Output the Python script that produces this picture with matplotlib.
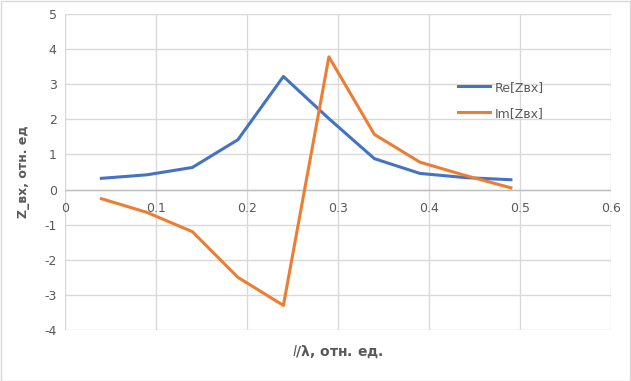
import numpy as np
import matplotlib.pyplot as plt
from matplotlib.patches import Rectangle

# l/lambda, rel. units
x = [0.04, 0.09, 0.14, 0.19, 0.24, 0.29, 0.34, 0.39, 0.44, 0.49]
re_z = [0.32, 0.42, 0.63, 1.42, 3.22, 2.02, 0.88, 0.46, 0.34, 0.28]
im_z = [-0.26, -0.65, -1.2, -2.5, -3.3, 3.78, 1.57, 0.78, 0.40, 0.05]

xticks = [0, 0.1, 0.2, 0.3, 0.4, 0.5, 0.6]
yticks = [-4, -3, -2, -1, 0, 1, 2, 3, 4, 5]

gray = '#595959'
grid = '#d9d9d9'

fig = plt.figure(figsize=(6.31, 3.81), dpi=100)
fig.patches.append(Rectangle((0.001, 0.001), 0.997, 0.996, transform=fig.transFigure,
                             fill=False, edgecolor=grid, lw=1))
ax = fig.add_axes([65/631, 1-330/381, (611-65)/631, (330-14)/381])

ax.plot(x, re_z, color='#4472C4', lw=2.2, label='Re[Zвх]')
ax.plot(x, im_z, color='#ED7D31', lw=2.2, label='Im[Zвх]')

ax.set_xlim(0, 0.6)
ax.set_ylim(-4, 5)
ax.set_xticks(xticks)
ax.set_yticks(yticks)
ax.set_xticklabels([f'{t:g}' for t in xticks])
ax.set_yticklabels([f'{t:g}' for t in yticks])
ax.grid(True, color=grid, lw=1)
ax.set_axisbelow(True)
for s in ax.spines.values():
    s.set_visible(False)
ax.axhline(0, color='#bfbfbf', lw=1, zorder=1)
ax.tick_params(length=0, labelsize=9, colors=gray)
ax.tick_params(axis='y', pad=6)
# x tick labels sit right under the zero line
for lab in ax.get_xticklabels():
    lab.set_transform(lab.get_transform() + plt.matplotlib.transforms.ScaledTranslation(0, 1.33, fig.dpi_scale_trans))

ax.set_ylabel('Z_вх, отн. ед', fontsize=9, color=gray, fontweight='bold', labelpad=10)
fig.text(338/631, 1-352/381, r'$\mathit{l}$/λ, отн. ед.', fontsize=10, color=gray,
         fontweight='bold', ha='center', va='center')

ax.legend(loc='upper left', bbox_to_anchor=(0.7, 0.825), frameon=False, fontsize=9,
          labelcolor=gray, handlelength=2.5, labelspacing=1.05, handletextpad=0.4)

fig.savefig('out.png', dpi=100)
